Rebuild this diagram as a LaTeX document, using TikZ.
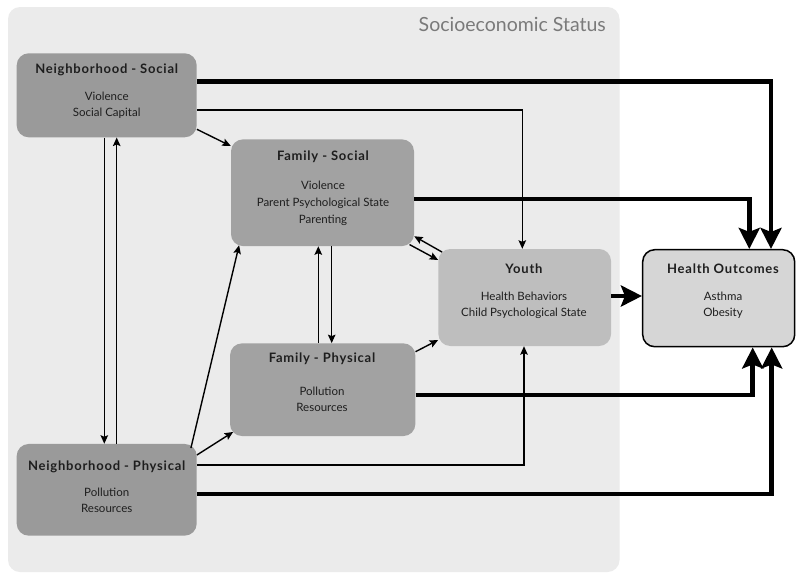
\documentclass[tikz,border=0pt]{standalone}
\usepackage{fontspec}
\setmainfont{Lato}
\newfontfamily\ttlfont[LetterSpace=6]{Lato}
\usetikzlibrary{arrows.meta}
\definecolor{panelgray}{HTML}{EBEBEB}
\definecolor{darkbox}{HTML}{9A9A9A}
\definecolor{midbox}{HTML}{A2A2A2}
\definecolor{youthbox}{HTML}{BEBEBE}
\definecolor{outbox}{HTML}{D6D6D6}
\definecolor{titlegray}{HTML}{7A7A7A}
\definecolor{textdark}{HTML}{1E1E1E}
\tikzset{
  box/.style={rectangle, rounded corners=12pt, inner sep=0pt, draw=none},
  ttl/.style={font=\ttlfont\fontsize{13}{15}\selectfont\bfseries, text=textdark, anchor=base, inner sep=0pt},
  bodytxt/.style={font=\fontsize{11.5}{13}\selectfont, text=textdark, anchor=base, inner sep=0pt},
  thinarrow/.style={line width=1.4pt, -{Stealth[length=8.5pt,width=7.5pt,inset=1.5pt]}},
  thickarrow/.style={line width=4.5pt, -{Stealth[length=21pt,width=21pt,inset=4pt]}},
}
\begin{document}
\begin{tikzpicture}[x=1pt,y=-1pt]
\useasboundingbox (0,0) rectangle (796,574);
\fill[white] (0,0) rectangle (796,574);
% panel
\node[box, fill=panelgray, minimum width=611.5pt, minimum height=565pt] (panel) at (313.75,289.5) {};
\node[font=\fontsize{19.5}{21}\selectfont, text=titlegray, anchor=base east, inner sep=0pt] (sestitle) at (606,31) {Socioeconomic Status};

% boxes
\node[box, fill=darkbox, minimum width=180pt, minimum height=84pt] (ns) at (106.7,95.3) {};
\node[box, fill=midbox, minimum width=183pt, minimum height=106.7pt] (fs) at (322.5,192.7) {};
\node[box, fill=midbox, minimum width=185.3pt, minimum height=92.7pt] (fp) at (322.7,389.7) {};
\node[box, fill=darkbox, minimum width=180pt, minimum height=91.7pt] (np) at (106.7,489.8) {};
\node[box, fill=youthbox, minimum width=172.7pt, minimum height=97pt] (yo) at (524.7,297.5) {};
\node[box, fill=outbox, draw=black, line width=1.5pt, minimum width=152pt, minimum height=97pt] (ho) at (718.7,298.2) {};

% connectors
\draw[thickarrow] (ns.east |- 0,81.7) -| (ho.north -| 771,0);
\draw[thinarrow] (ns.east |- 0,110) -| (yo.north -| 522.3,0);
\draw[thinarrow] (ns.east |- 0,129.3) -- (fs.west |- 0,146);
\draw[thinarrow] (ns.south -| 104.3,0) -- (np.north -| 104.3,0);
\draw[thinarrow] (np.north -| 116.7,0) -- (ns.south -| 116.7,0);
\draw[thickarrow] (fs.east |- 0,199) -| (ho.north -| 749.3,0);
\draw[thinarrow] ([shift={(4,3.3)}]yo.north west) -- ([shift={(0,-10)}]fs.south east);
\draw[thinarrow] ([shift={(-4.7,-1.7)}]fs.south east) -- (yo.west |- 0,260);
\draw[thinarrow] (fp.north -| 318.3,0) -- (fs.south -| 318.3,0);
\draw[thinarrow] (fs.south -| 331.7,0) -- (fp.north -| 331.7,0);
\draw[thinarrow] (fp.east |- 0,351.7) -- (yo.west |- 0,340);
\draw[thickarrow] (fp.east |- 0,395) -| (ho.south -| 752.7,0);
\draw[thinarrow] (np.east |- 0,455) -- ([shift={(3.3,-4.3)}]fp.south west);
\draw[thinarrow] ([shift={(-6,4.3)}]np.north east) -- ([shift={(8.3,-1)}]fs.south west);
\draw[thinarrow] (np.east |- 0,465) -| (yo.south -| 524,0);
\draw[thickarrow] (np.east |- 0,494) -| (ho.south -| 771.7,0);
\draw[thickarrow] (yo.east |- 0,296) -- (ho.west |- 0,296);

% texts
\node[ttl] (ns-t) at (106.7,73) {Neighborhood - Social};
\node[bodytxt] (ns-1) at (106.7,100) {Violence};
\node[bodytxt] (ns-2) at (106.7,116) {Social Capital};

\node[ttl] (fs-t) at (323,160.5) {Family - Social};
\node[bodytxt] (fs-1) at (323,189.5) {Violence};
\node[bodytxt] (fs-2) at (323,206) {Parent Psychological State};
\node[bodytxt] (fs-3) at (323,223) {Parenting};

\node[ttl] (fp-t) at (322,362.5) {Family - Physical};
\node[bodytxt] (fp-1) at (322,395) {Pollution};
\node[bodytxt] (fp-2) at (322,411) {Resources};

\node[ttl] (np-t) at (106.7,470) {Neighborhood - Physical};
\node[bodytxt] (np-1) at (106.7,496) {Pollution};
\node[bodytxt] (np-2) at (106.7,512) {Resources};

\node[ttl] (yo-t) at (524,273.5) {Youth};
\node[bodytxt] (yo-1) at (524,300) {Health Behaviors};
\node[bodytxt] (yo-2) at (524,316.5) {Child Psychological State};

\node[ttl] (ho-t) at (723,273.5) {Health Outcomes};
\node[bodytxt] (ho-1) at (723,300) {Asthma};
\node[bodytxt] (ho-2) at (723,316.5) {Obesity};
\end{tikzpicture}
\end{document}
